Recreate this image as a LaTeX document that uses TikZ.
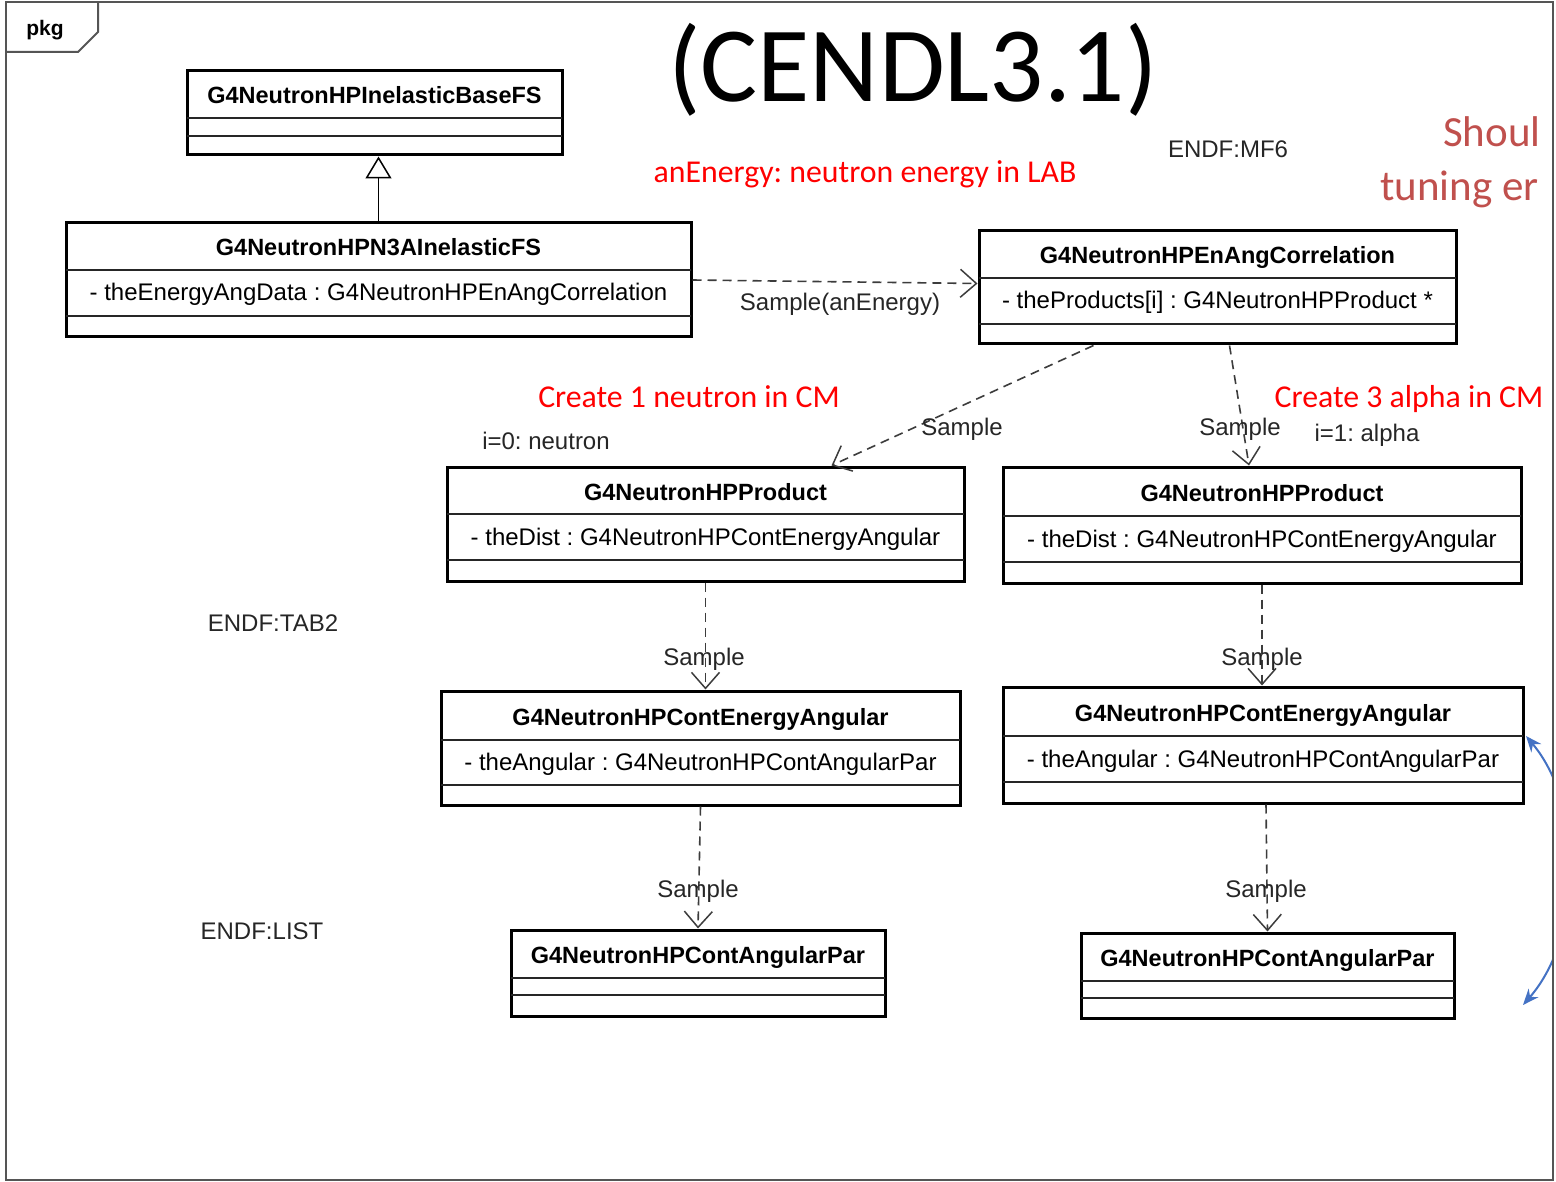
\documentclass[tikz,border=0pt]{standalone}
\usepackage{fontspec}
\setmainfont{Liberation Sans}
\newfontfamily\calfont{Carlito}
\usetikzlibrary{arrows.meta,fit}
\definecolor{redtxt}{RGB}{255,0,0}
\definecolor{darkredtxt}{RGB}{192,80,77}
\definecolor{officeblue}{RGB}{68,114,196}
\definecolor{framegray}{RGB}{85,85,85}
\definecolor{dashgray}{RGB}{60,60,60}

% name, x1, y1, x2, y2, divider1, divider2, title, attribute
\newcommand\umlclass[9]{%
  \node[classbox, fit={(#2,#3) (#4,#5)}] (#1) {};
  \draw[divider] (#2,#6) -- (#4,#6);
  \draw[divider] (#2,#7) -- (#4,#7);
  \node[titletext] (#1-t) at ({(#2+#4)/2},{(#3+#6)/2+9.5}) {#8};
  \node[attrtext] (#1-a) at ({(#2+#4)/2},{(#6+#7)/2+8}) {#9};
}

\begin{document}
\frenchspacing
\begin{tikzpicture}[x=1pt,y=-1pt,
  classbox/.style={draw=black, line width=3pt, inner sep=0pt, rectangle},
  divider/.style={draw=black!85, line width=2pt},
  titletext/.style={anchor=base, inner sep=0pt, font=\bfseries\fontsize{23.5}{27}\selectfont},
  attrtext/.style={anchor=base, inner sep=0pt, font=\fontsize{24}{28}\selectfont},
  plain/.style={anchor=base, inner sep=0pt, font=\fontsize{24}{28}\selectfont, text=black!85},
  redlabel/.style={anchor=base, inner sep=0pt, text=redtxt, font=\calfont\fontsize{31.8}{36}\selectfont},
  frame/.style={draw=framegray, line width=2pt},
  dep/.style={draw=dashgray, line width=1.6pt, dash pattern=on 9pt off 6pt,
    -{Straight Barb[length=16pt,width=28pt,line width=1.5pt]}},
  gen/.style={draw=black, line width=1.2pt,
    -{Triangle[open,length=22pt,width=26pt,line width=1.5pt]}},
]
\useasboundingbox (0,0) rectangle (1556,1182);
\fill[white] (0,0) rectangle (1556,1182);

% frame and tab
\draw[frame] (6,2) rectangle (1553,1180);
\draw[frame] (6,52) -- (78,52) -- (98,32) -- (98,2);
\node[anchor=base, inner sep=0pt, font=\bfseries\fontsize{21}{24}\selectfont] (pkg) at (45,36) {pkg};

% title
\node[anchor=base, inner sep=0pt, font=\calfont\fontsize{107}{110}\selectfont] (bigtitle) at (913,102) {(CENDL3.1)};

% classes
\umlclass{base}{187}{71}{562}{155}{118}{136}{G4NeutronHPInelasticBaseFS}{}
\umlclass{n3a}{66}{223}{691}{337}{270}{316}{G4NeutronHPN3AInelasticFS}{- theEnergyAngData : G4NeutronHPEnAngCorrelation}
\umlclass{enang}{979}{231}{1456}{344}{278}{324}{G4NeutronHPEnAngCorrelation}{- theProducts[i] : G4NeutronHPProduct *}
\umlclass{prodL}{447}{467}{964}{581}{514}{560}{G4NeutronHPProduct}{- theDist : G4NeutronHPContEnergyAngular}
\umlclass{prodR}{1003}{467}{1521}{583}{516}{562}{G4NeutronHPProduct}{- theDist : G4NeutronHPContEnergyAngular}
\umlclass{ceaL}{441}{691}{960}{805}{740}{785}{G4NeutronHPContEnergyAngular}{- theAngular : G4NeutronHPContAngularPar}
\umlclass{ceaR}{1003}{687}{1523}{803}{736}{782}{G4NeutronHPContEnergyAngular}{- theAngular : G4NeutronHPContAngularPar}
\umlclass{apL}{511}{930}{885}{1016}{978}{995}{G4NeutronHPContAngularPar}{}
\umlclass{apR}{1081}{933}{1454}{1018}{981}{998}{G4NeutronHPContAngularPar}{}

% connectors
\draw[gen] (n3a.north) -- (n3a.north |- base.south);
\draw[dep] (n3a.east) -- ([yshift=4pt]enang.west);
\draw[dep] ([xshift=-124pt]enang.south) -- ([xshift=126pt]prodL.north);
\draw[dep] ([xshift=12pt]enang.south) -- ([xshift=-13pt]prodR.north);
\draw[dep] (prodL.south) -- (prodL.south |- ceaL.north);
\draw[dep] (prodR.south) -- (prodR.south |- ceaR.north);
\draw[dep] (ceaL.south) -- (apL.north);
\draw[dep] ([xshift=3pt]ceaR.south) -- (apR.north);

% connector labels
\node[plain] (l1) at (840,311) {Sample(anEnergy)};
\node[plain] (l2) at (962,435) {Sample};
\node[plain] (l3) at (1240,435) {Sample};
\node[plain] (l4) at (704,665) {Sample};
\node[plain] (l5) at (1262,665) {Sample};
\node[plain] (l6) at (698,897) {Sample};
\node[plain] (l7) at (1266,897) {Sample};

% notes
\node[plain] (mf6) at (1228,158) {ENDF:MF6};
\node[plain] (i0) at (546,449) {i=0: neutron};
\node[plain] (i1) at (1367,441) {i=1: alpha};
\node[plain] (tab2) at (273,631) {ENDF:TAB2};
\node[plain] (list) at (262,939) {ENDF:LIST};

\node[redlabel] (r1) at (865,183) {anEnergy: neutron energy in LAB};
\node[redlabel] (r2) at (689,407) {Create 1 neutron in CM};
\node[redlabel] (r3) at (1409,407) {Create 3 alpha in CM};

\node[anchor=base west, inner sep=0pt, text=darkredtxt, font=\calfont\fontsize{43}{48}\selectfont] (shoul) at (1443,147) {Shoul};
\node[anchor=base west, inner sep=0pt, text=darkredtxt, font=\calfont\fontsize{43}{48}\selectfont] (tuning) at (1380,201) {tuning er};

% blue arc clipped at the right edge
\begin{scope}
  \clip (0,0) rectangle (1552,1182);
  \coordinate (bluetop) at (1526,736);
  \coordinate (bluebot) at (1523,1005);
  \draw[officeblue, line width=2pt, {Stealth[length=16pt,width=13pt]}-{Stealth[length=16pt,width=13pt]}]
    (bluetop) .. controls (1584,805) and (1584,935) .. (bluebot);
\end{scope}
\draw[frame] (1553,2) -- (1553,1180);
\end{tikzpicture}
\end{document}
